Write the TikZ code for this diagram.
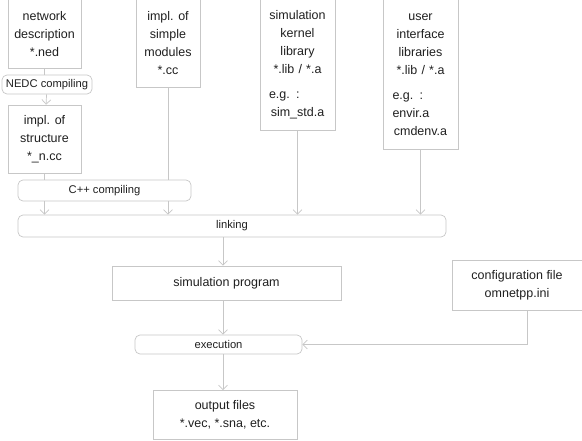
\documentclass[tikz,border=0pt]{standalone}
\usepackage{fontspec}
\setmainfont{Liberation Sans}
\usetikzlibrary{arrows.meta, positioning, calc}

\colorlet{linegray}{black!22}
\colorlet{textgray}{black!88}

\begin{document}
\begin{tikzpicture}[x=1pt, y=-1pt, >={Straight Barb[length=4.5pt, width=9pt]}]
            \tikzset{filebox/.style={rectangle, draw=linegray, line width=0.7pt, text=textgray, align=center,
                    font=\fontsize{12.5}{18}\selectfont, inner sep=0pt},
                stepbox/.style={rectangle, rounded corners=5pt, draw=linegray, line width=0.7pt, text=textgray,
                    font=\fontsize{11.2}{13}\selectfont, inner sep=0pt},
                flow/.style={draw=linegray, line width=0.7pt}}
            \useasboundingbox (0,0) rectangle (582,441);
            % source files
            \node[filebox, minimum width=73pt, minimum height=69pt] (ned) at (44.5,34) {network\\description\\{}*.ned};
            \node[stepbox, minimum width=90pt, minimum height=19pt] (nedc) at (47,84.5) {NEDC compiling};
            \node[filebox, minimum width=73pt, minimum height=68pt] (struct) at (44.5,139) {impl. of\\structure\\{}*\_n.cc};
            \node[filebox, minimum width=64pt, minimum height=88pt] (simple) at (168,43.5) {impl. of\\simple\\modules\\{}*.cc};
            % libraries
            \node[filebox, minimum width=75pt, minimum height=131pt, text width=57pt] (kernel) at (297.5,65)
                {simulation\\kernel\\library\\{}*.lib / *.a\par\vspace{7pt}\raggedright e.g. :\\sim\_std.a};
            \node[filebox, minimum width=75pt, minimum height=150pt, text width=56pt] (uilib) at (420.5,74.5)
                {user\\interface\\libraries\\{}*.lib / *.a\par\vspace{7pt}\raggedright e.g. :\\envir.a\\cmdenv.a};
            % build steps
            \node[stepbox, minimum width=173pt, minimum height=21pt] (cpp) at (104.5,190.5) {C++ compiling};
            \node[stepbox, minimum width=428pt, minimum height=22pt] (link) at (232,226) {linking};
            \node[filebox, minimum width=229pt, minimum height=34pt] (prog) at (226.5,283) {simulation program};
            \node[filebox, minimum width=130pt, minimum height=50pt] (config) at (517,285) {configuration file\\omnetpp.ini};
            \node[stepbox, minimum width=167pt, minimum height=19pt] (exec) at (218.5,344.5) {execution};
            \node[filebox, minimum width=144pt, minimum height=49pt] (out) at (225,415) {output files\\{}*.vec, *.sna, etc.};

            \draw[flow] (ned) -- (ned |- nedc.north);
            \draw[flow, ->] (nedc) -- (struct);
            \draw[flow] (struct) -- (struct |- cpp.north);
            \draw[flow] (simple) -- (simple |- cpp.north);
            \draw[flow, ->] (cpp.south -| struct) -- (struct |- link.north);
            \draw[flow, ->] (cpp.south -| simple) -- (simple |- link.north);
            \draw[flow, ->] (kernel) -- (kernel |- link.north);
            \draw[flow, ->] (uilib) -- (uilib |- link.north);
            \draw[flow, ->] (link.south -| 223,0) -- (prog.north -| 223,0);
            \draw[flow, ->] (prog.south -| 223,0) -- (exec.north -| 223,0);
            \draw[flow, ->] (exec.south -| 223,0) -- (out.north -| 223,0);
            \draw[flow, ->] (config.south -| 527,0) |- (exec.east);
        \end{tikzpicture}
\end{document}
